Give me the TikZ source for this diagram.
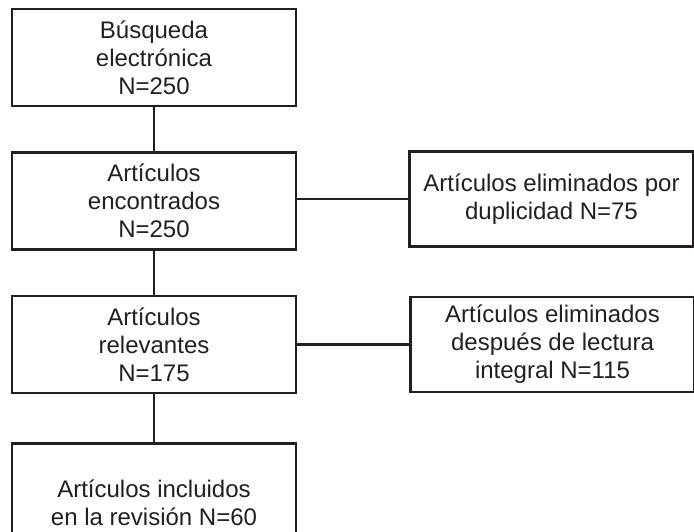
\documentclass[tikz,border=0pt]{standalone}
\usepackage{fontspec}
\setmainfont{Liberation Sans}
\usetikzlibrary{positioning}
\definecolor{ink}{HTML}{231F20}
\tikzset{
  stage/.style={rectangle, draw=ink, line width=1.25pt, text=ink, minimum width=142pt, minimum height=48.5pt, align=center, font=\fontsize{12}{14}\selectfont, inner sep=2pt},
  excluded/.style={stage, minimum height=47.5pt},
  link/.style={draw=ink, line width=1.1pt},
}

\begin{document}
\begin{tikzpicture}
  \useasboundingbox (0,0) rectangle (347pt,-265.5pt);
  \clip (0,0) rectangle (347pt,-265.5pt);

  % Main column
  \node[stage] (busqueda) at (77pt,-28.75pt) {Búsqueda\\electrónica\\N=250};
  \node[stage, below=22pt of busqueda] (encontrados) {Artículos\\encontrados\\N=250};
  \node[stage, below=22pt of encontrados] (relevantes) {Artículos\\relevantes\\N=175};
  \node[stage, below=24pt of relevantes, minimum height=59pt] (incluidos) {Artículos incluidos\\en la revisión N=60};

  % Excluded records
  \node[excluded, right=55.5pt of encontrados, yshift=1pt] (duplicados) {Artículos eliminados por\\duplicidad N=75};
  \node[excluded, right=56pt of relevantes] (lectura) {Artículos eliminados\\después de lectura\\integral N=115};

  % Connectors
  \draw[link] (busqueda) -- (encontrados);
  \draw[link] (encontrados) -- (relevantes);
  \draw[link] (relevantes) -- (incluidos);
  \draw[link] (encontrados.east |- duplicados.west) -- (duplicados.west);
  \draw[link] (relevantes.east |- lectura.west) -- (lectura.west);
\end{tikzpicture}
\end{document}
